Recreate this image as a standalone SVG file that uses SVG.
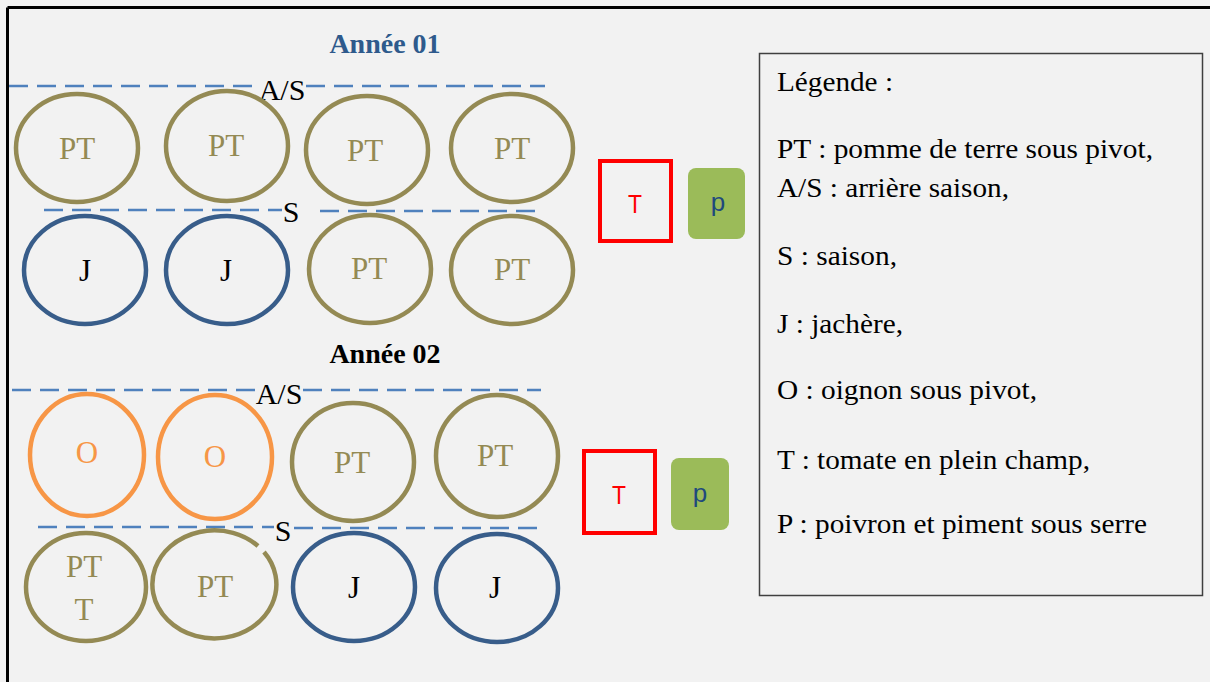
<svg xmlns="http://www.w3.org/2000/svg" width="1210" height="682" viewBox="0 0 1210 682">
  <style>
    .lbl { font-family: "Liberation Serif", "Times New Roman", serif; font-size: 31px; text-anchor: middle; }
    .pt { fill: none; stroke: #948a54; stroke-width: 4.5; }
    .j { fill: none; stroke: #385d8a; stroke-width: 4.5; }
    .o { fill: none; stroke: #f79646; stroke-width: 4.5; }
    .pttxt { fill: #948a54; }
    .jtxt { fill: #000000; }
    .otxt { fill: #f79646; }
    .dash { stroke: #4f81bd; stroke-width: 2.5; stroke-dasharray: 19 9; fill: none; }
    .season { font-family: "Liberation Serif", "Times New Roman", serif; font-size: 30px; fill: #000; text-anchor: middle; }
    .year { font-family: "Liberation Serif", "Times New Roman", serif; font-size: 28px; font-weight: bold; text-anchor: middle; }
    .tbox { fill: none; stroke: #ff0000; stroke-width: 4; }
    .ttxt { font-family: "Liberation Sans", Arial, sans-serif; font-size: 26px; fill: #ff0000; text-anchor: middle; }
    .pbox { fill: #9bbb59; }
    .ptxt2 { font-family: "Liberation Sans", Arial, sans-serif; font-size: 26px; fill: #1f497d; text-anchor: middle; }
    .leg { font-family: "Liberation Serif", "Times New Roman", serif; font-size: 27px; fill: #000; }
  </style>

  <!-- background and frame -->
  <rect x="0" y="0" width="1210" height="682" fill="#f2f2f2"/>
  <line x1="7.5" y1="7.5" x2="1210" y2="7.5" stroke="#000" stroke-width="3"/>
  <line x1="7.5" y1="7.5" x2="7.5" y2="682" stroke="#000" stroke-width="3"/>

  <!-- season boundaries -->
  <g id="connectors">
    <line class="dash" x1="9" y1="86" x2="258" y2="86"/>
    <line class="dash" x1="306" y1="86" x2="545" y2="86"/>
    <line class="dash" x1="44" y1="210" x2="282" y2="210"/>
    <line class="dash" x1="320" y1="211" x2="540" y2="211"/>
    <line class="dash" x1="12" y1="390" x2="256" y2="390"/>
    <line class="dash" x1="303" y1="390" x2="541" y2="390"/>
    <line class="dash" x1="38" y1="527" x2="274" y2="527"/>
    <line class="dash" x1="294" y1="528" x2="543" y2="528"/>
  </g>

  <!-- year 1 -->
  <text class="year" x="385" y="53" fill="#2e5a8c">Année 01</text>
  <text class="season" x="282" y="100">A/S</text>
  <text class="season" x="291" y="222">S</text>

  <g id="y1-as-1"><ellipse class="pt" cx="77" cy="148" rx="61" ry="54"/><text class="lbl pttxt" x="77" y="159">PT</text></g>
  <g id="y1-as-2"><ellipse class="pt" cx="227" cy="146" rx="61" ry="55"/><text class="lbl pttxt" x="226" y="156">PT</text></g>
  <g id="y1-as-3"><ellipse class="pt" cx="367" cy="150" rx="61" ry="54"/><text class="lbl pttxt" x="365" y="161">PT</text></g>
  <g id="y1-as-4"><ellipse class="pt" cx="512" cy="148" rx="61" ry="54"/><text class="lbl pttxt" x="512" y="159">PT</text></g>

  <g id="y1-s-1"><ellipse class="j" cx="85" cy="270" rx="61" ry="54"/><text class="lbl jtxt" x="85" y="281">J</text></g>
  <g id="y1-s-2"><ellipse class="j" cx="227" cy="270" rx="61" ry="54"/><text class="lbl jtxt" x="226" y="281">J</text></g>
  <g id="y1-s-3"><ellipse class="pt" cx="370" cy="269" rx="61" ry="54"/><text class="lbl pttxt" x="369" y="279">PT</text></g>
  <g id="y1-s-4"><ellipse class="pt" cx="512" cy="270" rx="61" ry="54"/><text class="lbl pttxt" x="512" y="280">PT</text></g>

  <g id="y1-t"><rect class="tbox" x="600" y="161" width="71" height="80"/><text class="ttxt" x="635" y="213" textLength="14" lengthAdjust="spacingAndGlyphs">T</text></g>
  <g id="y1-p"><rect class="pbox" x="688" y="168" width="57" height="71" rx="8"/><text class="ptxt2" x="718" y="211">p</text></g>

  <!-- year 2 -->
  <text class="year" x="385" y="363" fill="#000000">Année 02</text>
  <text class="season" x="279" y="404">A/S</text>
  <text class="season" x="283" y="541">S</text>

  <g id="y2-as-1"><ellipse class="o" cx="87" cy="455" rx="57" ry="61"/><text class="lbl otxt" x="87" y="463">O</text></g>
  <g id="y2-as-2"><ellipse class="o" cx="215" cy="457" rx="57" ry="62"/><text class="lbl otxt" x="215" y="467">O</text></g>
  <g id="y2-as-3"><ellipse class="pt" cx="353" cy="462" rx="61" ry="59"/><text class="lbl pttxt" x="352" y="473">PT</text></g>
  <g id="y2-as-4"><ellipse class="pt" cx="497" cy="456" rx="61" ry="61"/><text class="lbl pttxt" x="495" y="466">PT</text></g>

  <g id="y2-s-1"><ellipse class="pt" cx="86" cy="587" rx="60" ry="54"/><text class="lbl pttxt" x="84" y="577">PT</text><text class="lbl pttxt" x="84" y="620">T</text></g>
  <g id="y2-s-2"><path class="pt" d="M 258 546 A 62 54 0 1 0 264 552"/><text class="lbl pttxt" x="215" y="597">PT</text></g>
  <g id="y2-s-3"><ellipse class="j" cx="354" cy="587" rx="61" ry="54"/><text class="lbl jtxt" x="354" y="598">J</text></g>
  <g id="y2-s-4"><ellipse class="j" cx="497" cy="588" rx="61" ry="54"/><text class="lbl jtxt" x="495" y="598">J</text></g>

  <g id="y2-t"><rect class="tbox" x="584" y="451" width="71" height="82"/><text class="ttxt" x="619" y="504" textLength="14" lengthAdjust="spacingAndGlyphs">T</text></g>
  <g id="y2-p"><rect class="pbox" x="671" y="458" width="58" height="72" rx="8"/><text class="ptxt2" x="700" y="502">p</text></g>

  <!-- legend -->
  <g id="legend">
    <rect x="759.5" y="53.5" width="443" height="542" fill="none" stroke="#404040" stroke-width="1.5"/>
    <text class="leg" x="777" y="91" textLength="116" lengthAdjust="spacingAndGlyphs">Légende :</text>
    <text class="leg" x="777" y="158" textLength="376" lengthAdjust="spacingAndGlyphs">PT : pomme de terre sous pivot,</text>
    <text class="leg" x="777" y="197" textLength="232" lengthAdjust="spacingAndGlyphs">A/S : arrière saison,</text>
    <text class="leg" x="777" y="265" textLength="120" lengthAdjust="spacingAndGlyphs">S : saison,</text>
    <text class="leg" x="777" y="333" textLength="126" lengthAdjust="spacingAndGlyphs">J : jachère,</text>
    <text class="leg" x="777" y="399" textLength="260" lengthAdjust="spacingAndGlyphs">O : oignon sous pivot,</text>
    <text class="leg" x="777" y="469" textLength="313" lengthAdjust="spacingAndGlyphs">T : tomate en plein champ,</text>
    <text class="leg" x="777" y="533" textLength="370" lengthAdjust="spacingAndGlyphs">P : poivron et piment sous serre</text>
  </g>
</svg>
